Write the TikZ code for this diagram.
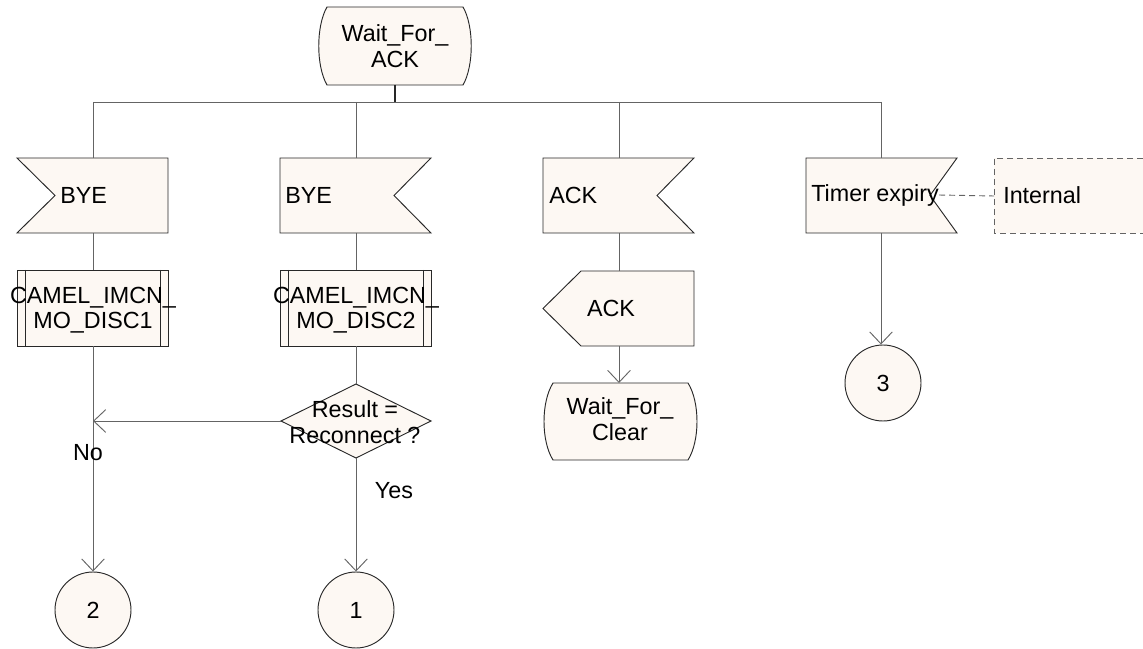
\documentclass[tikz,border=0pt]{standalone}
\usepackage{fontspec}
\setmainfont{Liberation Sans}
\usetikzlibrary{arrows.meta}
\definecolor{sdlfill}{RGB}{253,248,243}
\definecolor{linec}{RGB}{100,100,100}
\definecolor{shpc}{RGB}{40,40,40}
\begin{document}
\begin{tikzpicture}[x=0.75pt,y=-0.75pt,
  conn/.style={draw=linec,line width=0.7pt},
  arr/.style={conn,-{Straight Barb[length=9pt,width=17pt,line width=0.7pt]}},
  shp/.style={draw=shpc,fill=sdlfill,line width=0.7pt},
  dsh/.style={draw=linec,line width=0.7pt,dash pattern=on 4.5pt off 3pt},
  lbl/.style={font=\fontsize{17.5}{19}\selectfont,inner sep=0pt,align=center},
  ]
\useasboundingbox (0,0) rectangle (1143,649);

% ---- start state
\path[shp] (327,7) -- (463,7) .. controls (474,26) and (474,66) .. (463,85) -- (327,85) .. controls (316,66) and (316,26) .. (327,7) -- cycle;
\node[lbl] (wfa) at (395,46) {Wait\_For\_\\ACK};
\coordinate (wfa-s) at (395,85);
\coordinate (bus) at (395,102);
\coordinate (busL) at (93,102);
\coordinate (busB2) at (356,102);
\coordinate (busB3) at (619,102);
\coordinate (busR) at (881,102);
\draw[conn] (busL) -- (busR);
\draw[draw=shpc,line width=0.9pt] (wfa-s) -- (bus);

% ---- signals
\path[shp] (17,158) -- (168,158) -- (168,233) -- (17,233) -- (55,195.5) -- cycle;
\node[lbl,anchor=west] (bye1t) at (60,195) {BYE};
\coordinate (bye1-n) at (93,158);
\coordinate (bye1-s) at (93,233);

\path[shp] (280,158) -- (431,158) -- (394,195.5) -- (431,233) -- (280,233) -- cycle;
\node[lbl,anchor=west] (bye2t) at (285,195) {BYE};
\coordinate (bye2-n) at (356,158);
\coordinate (bye2-s) at (356,233);

\path[shp] (543,158) -- (694,158) -- (657,195.5) -- (694,233) -- (543,233) -- cycle;
\node[lbl,anchor=west] (ackt) at (549,195) {ACK};
\coordinate (ack-n) at (619,158);
\coordinate (ack-s) at (619,233);

\path[shp] (806,158) -- (957,158) -- (930,195.5) -- (957,233) -- (806,233) -- cycle;
\node[lbl,anchor=west] (timt) at (811,195) {Timer expiry};
\coordinate (tim-n) at (881,158);
\coordinate (tim-s) at (881,233);

% ---- internal comment box
\path[fill=sdlfill] (994,158) rectangle (1143,233);
\draw[dsh] (1143,158) -- (994,158) -- (994,233) -- (1143,233);
\node[lbl,anchor=west] (intt) at (1003,195) {Internal};
\coordinate (int-w) at (994,196);
\draw[dsh] (timt.east) -- (int-w);

\draw[conn] (busL) -- (bye1-n);
\draw[conn] (busB2) -- (bye2-n);
\draw[conn] (busB3) -- (ack-n);
\draw[conn] (busR) -- (tim-n);

% ---- procedures
\path[shp] (17,270) rectangle (168,346);
\draw[shpc,line width=0.7pt] (25,270) -- (25,346) (160,270) -- (160,346);
\node[lbl] (proc1) at (93,310) {CAMEL\_IMCN\_\\MO\_DISC1};
\coordinate (proc1-n) at (93,270);
\coordinate (proc1-s) at (93,346);

\path[shp] (280,270) rectangle (431,346);
\draw[shpc,line width=0.7pt] (288,270) -- (288,346) (423,270) -- (423,346);
\node[lbl] (proc2) at (356,310) {CAMEL\_IMCN\_\\MO\_DISC2};
\coordinate (proc2-n) at (356,270);
\coordinate (proc2-s) at (356,346);

\draw[conn] (bye1-s) -- (proc1-n);
\draw[conn] (bye2-s) -- (proc2-n);

% ---- output ACK
\path[shp] (543,308.5) -- (581,271) -- (694,271) -- (694,346) -- (581,346) -- cycle;
\node[lbl] (ackout) at (611,308) {ACK};
\coordinate (ackout-n) at (619,271);
\coordinate (ackout-s) at (619,346);
\draw[conn] (ack-s) -- (ackout-n);

% ---- state Wait_For_Clear
\path[shp] (553,383) -- (688,383) .. controls (700,402) and (700,441) .. (688,460) -- (553,460) .. controls (541,441) and (541,402) .. (553,383) -- cycle;
\node[lbl] (wfc) at (620,419) {Wait\_For\_\\Clear};
\coordinate (wfc-n) at (619,383);
\draw[arr] (ackout-s) -- (wfc-n);

% ---- decision
\path[shp] (281,421) -- (356,384) -- (431,421) -- (356,458) -- cycle;
\node[lbl] (dect) at (355,422) {Result =\\Reconnect ?};
\coordinate (dec-n) at (356,384);
\coordinate (dec-s) at (356,458);
\coordinate (dec-w) at (281,421);
\coordinate (join) at (93,421);
\draw[conn] (proc2-s) -- (dec-n);

% ---- connectors (circles)
\node[shp,circle,minimum size=57pt,inner sep=0pt,font=\fontsize{17.5}{19}\selectfont] (c2) at (93,610) {2};
\node[shp,circle,minimum size=57pt,inner sep=0pt,font=\fontsize{17.5}{19}\selectfont] (c1) at (356,610) {1};
\node[shp,circle,minimum size=57pt,inner sep=0pt,font=\fontsize{17.5}{19}\selectfont] (c3) at (883,383) {3};

\draw[arr] (dec-w) -- (join);
\draw[arr] (proc1-s) -- (c2);
\draw[arr] (dec-s) -- (c1);
\draw[arr] (tim-s) -- (tim-s |- c3.north);

\node[lbl] (no) at (88,453) {No};
\node[lbl] (yes) at (394,491) {Yes};
\end{tikzpicture}
\end{document}
